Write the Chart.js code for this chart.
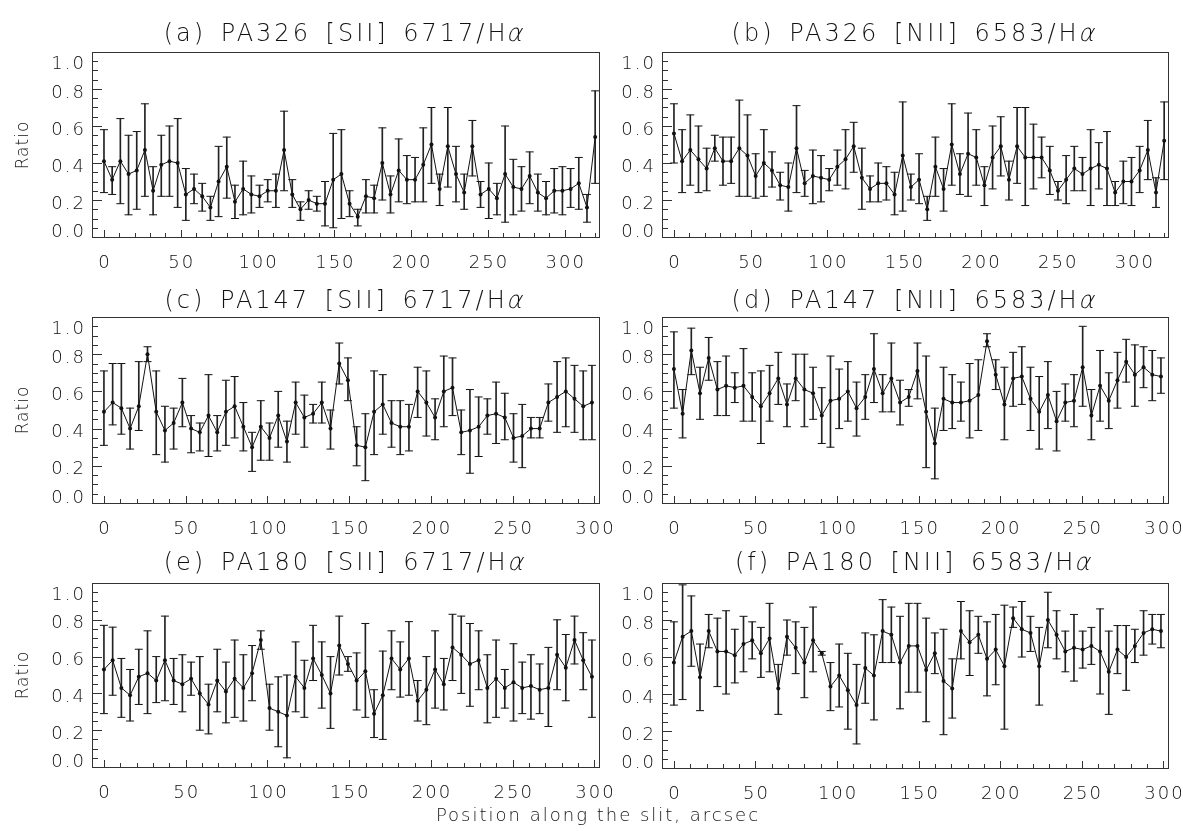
<!DOCTYPE html>
<html>
<head>
<meta charset="utf-8">
<title>Line ratios along the slit</title>
<script src="https://cdn.jsdelivr.net/npm/chart.js@4.4.1/dist/chart.umd.min.js"></script>
<style>
  body { margin: 0; background: #fff; }
  #page { position: relative; width: 1183px; height: 831px; overflow: hidden;
          font-family: "DejaVu Sans", sans-serif; font-weight: 200; color: #111; }
  #page canvas { position: absolute; }
  .ptitle { position: absolute; text-align: center; font-size: 24px; line-height: 24px;
            letter-spacing: 3px; word-spacing: 4px; white-space: nowrap; will-change: transform; }
  .alpha { display: inline-block; transform: skewX(-14deg); }
  .ylab { position: absolute; width: 100px; height: 20px; line-height: 20px; text-align: center;
          font-size: 17px; letter-spacing: 1px; transform: rotate(-90deg); }
  #xlab { position: absolute; left: 0; width: 1196px; top: 806px; text-align: center;
          font-size: 18px; line-height: 18px; letter-spacing: 2px; white-space: nowrap; will-change: transform; }
</style>
</head>
<body>
<div id="page">
  <div id="xlab">Position along the slit, arcsec</div>
</div>
<script>
// ---- data (ratio, lower and upper error bar ends) ----
const binStep = 5.33;   // arcsec between extracted bins along the slit
const xTickValues = [0, 50, 100, 150, 200, 250, 300];
const yTickValues = [0, 0.2, 0.4, 0.6, 0.8, 1.0];

// (a) PA326 [SII] 6717/Ha
const pa326SiiVal = [0.41,0.31,0.41,0.34,0.36,0.47,0.25,0.39,0.41,0.40, 0.23,0.26,0.22,0.16,0.30,0.38,0.19,0.26,0.23,0.22,
  0.25,0.25,0.47,0.23,0.15,0.20,0.18,0.18,0.31,0.34, 0.18,0.11,0.22,0.21,0.40,0.23,0.36,0.31,0.31,0.39,
  0.50,0.26,0.49,0.34,0.24,0.49,0.23,0.26,0.21,0.34, 0.27,0.26,0.33,0.24,0.21,0.25,0.25,0.26,0.29,0.16, 0.54];
const pa326SiiLo = [0.24,0.23,0.18,0.12,0.15,0.22,0.12,0.22,0.22,0.16, 0.09,0.18,0.14,0.09,0.11,0.21,0.10,0.12,0.13,0.16,
  0.19,0.16,0.25,0.16,0.09,0.15,0.14,0.06,0.05,0.10, 0.11,0.06,0.13,0.13,0.20,0.13,0.19,0.18,0.19,0.19,
  0.29,0.17,0.27,0.19,0.15,0.33,0.16,0.10,0.12,0.08, 0.12,0.14,0.18,0.14,0.12,0.13,0.12,0.16,0.15,0.08, 0.29];
const pa326SiiHi = [0.58,0.38,0.64,0.55,0.57,0.72,0.38,0.55,0.60,0.64, 0.37,0.34,0.29,0.22,0.49,0.54,0.28,0.41,0.33,0.28,
  0.31,0.34,0.68,0.31,0.19,0.25,0.22,0.30,0.56,0.58, 0.25,0.15,0.31,0.28,0.59,0.33,0.53,0.44,0.43,0.59,
  0.70,0.34,0.70,0.49,0.34,0.63,0.30,0.40,0.29,0.60, 0.42,0.38,0.46,0.34,0.30,0.37,0.38,0.37,0.43,0.23, 0.79];

// (b) PA326 [NII] 6583/Ha
const pa326NiiVal = [0.56,0.41,0.47,0.42,0.37,0.48,0.41,0.41,0.48,0.44, 0.33,0.40,0.36,0.28,0.27,0.48,0.29,0.33,0.32,0.31,
  0.38,0.42,0.49,0.32,0.26,0.29,0.29,0.23,0.44,0.27, 0.31,0.15,0.38,0.26,0.50,0.34,0.45,0.43,0.28,0.43,
  0.49,0.31,0.49,0.43,0.43,0.43,0.36,0.25,0.31,0.37, 0.34,0.37,0.39,0.37,0.24,0.30,0.30,0.36,0.47,0.24, 0.52];
const pa326NiiLo = [0.40,0.24,0.28,0.24,0.25,0.41,0.28,0.29,0.22,0.22, 0.21,0.22,0.27,0.20,0.14,0.24,0.22,0.18,0.19,0.25,
  0.28,0.26,0.35,0.15,0.19,0.19,0.20,0.12,0.14,0.20, 0.18,0.09,0.22,0.14,0.28,0.23,0.22,0.28,0.17,0.26,
  0.33,0.20,0.29,0.17,0.26,0.32,0.23,0.20,0.18,0.25, 0.25,0.17,0.26,0.17,0.17,0.18,0.17,0.24,0.31,0.16, 0.31];
const pa326NiiHi = [0.72,0.58,0.66,0.60,0.48,0.55,0.54,0.54,0.74,0.66, 0.45,0.58,0.46,0.35,0.40,0.71,0.36,0.47,0.44,0.37,
  0.47,0.58,0.62,0.48,0.33,0.40,0.38,0.35,0.73,0.34, 0.45,0.22,0.54,0.37,0.72,0.45,0.67,0.58,0.38,0.60,
  0.65,0.41,0.70,0.70,0.61,0.54,0.49,0.30,0.44,0.49, 0.43,0.58,0.51,0.57,0.30,0.41,0.43,0.49,0.63,0.32, 0.73];

// (c) PA147 [SII] 6717/Ha
const pa147SiiVal = [0.49,0.54,0.51,0.40,0.52,0.80,0.49,0.39,0.43,0.54, 0.40,0.38,0.47,0.38,0.49,0.52,0.41,0.30,0.41,0.35,
  0.47,0.33,0.54,0.46,0.48,0.54,0.40,0.75,0.66,0.31, 0.30,0.49,0.53,0.43,0.41,0.41,0.60,0.54,0.46,0.60,
  0.62,0.38,0.39,0.41,0.47,0.48,0.46,0.35,0.36,0.40, 0.40,0.54,0.57,0.60,0.56,0.52,0.54];
const pa147SiiLo = [0.31,0.42,0.37,0.29,0.39,0.76,0.26,0.22,0.29,0.41, 0.27,0.28,0.25,0.28,0.31,0.35,0.28,0.17,0.23,0.23,
  0.30,0.22,0.37,0.30,0.43,0.43,0.29,0.64,0.55,0.20, 0.12,0.26,0.37,0.30,0.26,0.28,0.46,0.36,0.34,0.41,
  0.47,0.26,0.16,0.25,0.37,0.32,0.34,0.22,0.19,0.35, 0.35,0.44,0.38,0.41,0.38,0.34,0.34];
const pa147SiiHi = [0.71,0.75,0.75,0.51,0.76,0.84,0.71,0.52,0.51,0.67, 0.47,0.43,0.69,0.47,0.66,0.68,0.54,0.38,0.55,0.43,
  0.60,0.44,0.65,0.58,0.53,0.65,0.50,0.86,0.78,0.41, 0.48,0.71,0.69,0.55,0.55,0.53,0.73,0.71,0.56,0.79,
  0.78,0.50,0.61,0.57,0.56,0.65,0.59,0.48,0.53,0.46, 0.46,0.64,0.76,0.78,0.74,0.71,0.74];

// (d) PA147 [NII] 6583/Ha
const pa147NiiVal = [0.72,0.48,0.82,0.59,0.78,0.61,0.63,0.62,0.63,0.57, 0.52,0.59,0.67,0.53,0.67,0.61,0.59,0.47,0.55,0.56,
  0.60,0.51,0.57,0.72,0.59,0.67,0.54,0.57,0.71,0.49, 0.32,0.56,0.54,0.54,0.55,0.58,0.87,0.69,0.53,0.67,
  0.68,0.56,0.49,0.58,0.44,0.54,0.55,0.73,0.47,0.63, 0.55,0.66,0.76,0.69,0.73,0.69,0.68];
const pa147NiiLo = [0.51,0.35,0.69,0.45,0.66,0.47,0.47,0.54,0.44,0.44, 0.32,0.44,0.53,0.41,0.55,0.41,0.45,0.32,0.30,0.40,
  0.44,0.36,0.45,0.54,0.49,0.49,0.42,0.52,0.56,0.19, 0.13,0.39,0.40,0.44,0.35,0.39,0.84,0.61,0.34,0.52,
  0.53,0.39,0.29,0.40,0.28,0.44,0.41,0.52,0.34,0.44, 0.40,0.51,0.65,0.52,0.62,0.55,0.59];
const pa147NiiHi = [0.92,0.61,0.94,0.73,0.89,0.76,0.79,0.70,0.83,0.70, 0.71,0.74,0.81,0.64,0.80,0.80,0.73,0.62,0.79,0.72,
  0.76,0.65,0.69,0.91,0.69,0.86,0.66,0.61,0.86,0.79, 0.51,0.73,0.69,0.65,0.75,0.77,0.91,0.77,0.73,0.81,
  0.84,0.73,0.68,0.76,0.60,0.64,0.69,0.95,0.61,0.82, 0.70,0.81,0.88,0.85,0.84,0.82,0.78];

// (e) PA180 [SII] 6717/Ha
const pa180SiiVal = [0.53,0.58,0.43,0.39,0.49,0.51,0.47,0.58,0.47,0.45, 0.48,0.40,0.34,0.47,0.41,0.48,0.43,0.51,0.69,0.32,
  0.30,0.28,0.49,0.43,0.59,0.50,0.40,0.66,0.56,0.47, 0.52,0.29,0.39,0.59,0.53,0.59,0.36,0.42,0.53,0.45,
  0.65,0.61,0.56,0.58,0.43,0.48,0.43,0.46,0.43,0.44, 0.42,0.43,0.61,0.54,0.69,0.58,0.49];
const pa180SiiLo = [0.29,0.39,0.27,0.25,0.34,0.29,0.35,0.36,0.34,0.30, 0.39,0.20,0.18,0.30,0.24,0.27,0.25,0.36,0.64,0.20,
  0.11,0.05,0.30,0.27,0.47,0.32,0.21,0.50,0.52,0.31, 0.27,0.16,0.15,0.42,0.38,0.39,0.25,0.23,0.32,0.31,
  0.47,0.40,0.33,0.42,0.24,0.27,0.32,0.25,0.29,0.26, 0.29,0.22,0.42,0.36,0.56,0.42,0.27];
const pa180SiiHi = [0.77,0.76,0.59,0.53,0.64,0.74,0.60,0.82,0.59,0.61, 0.57,0.60,0.45,0.64,0.57,0.69,0.61,0.66,0.74,0.45,
  0.49,0.50,0.68,0.58,0.77,0.68,0.60,0.82,0.60,0.62, 0.78,0.42,0.63,0.74,0.68,0.79,0.47,0.60,0.74,0.59,
  0.83,0.82,0.78,0.74,0.61,0.69,0.53,0.67,0.57,0.61, 0.56,0.65,0.80,0.72,0.82,0.73,0.69];

// (f) PA180 [NII] 6583/Ha
const pa180NiiVal = [0.57,0.71,0.74,0.49,0.74,0.63,0.63,0.61,0.67,0.69, 0.62,0.70,0.43,0.71,0.65,0.57,0.69,0.62,0.44,0.50,
  0.42,0.34,0.54,0.50,0.74,0.72,0.57,0.66,0.66,0.53, 0.62,0.47,0.43,0.74,0.68,0.72,0.59,0.64,0.55,0.81,
  0.75,0.73,0.55,0.80,0.72,0.63,0.65,0.64,0.66,0.63, 0.52,0.64,0.60,0.66,0.73,0.75,0.74];
const pa180NiiLo = [0.34,0.37,0.55,0.31,0.65,0.44,0.40,0.46,0.52,0.59, 0.49,0.52,0.29,0.61,0.51,0.38,0.52,0.61,0.31,0.33,
  0.21,0.13,0.35,0.26,0.57,0.57,0.32,0.41,0.41,0.25, 0.51,0.18,0.27,0.59,0.50,0.62,0.39,0.45,0.21,0.76,
  0.60,0.63,0.34,0.65,0.59,0.52,0.47,0.54,0.56,0.40, 0.29,0.51,0.42,0.57,0.61,0.67,0.65];
const pa180NiiHi = [0.79,0.99,0.93,0.67,0.83,0.81,0.85,0.75,0.82,0.79, 0.76,0.89,0.56,0.80,0.79,0.76,0.87,0.63,0.57,0.67,
  0.62,0.56,0.73,0.72,0.91,0.87,0.82,0.89,0.89,0.81, 0.73,0.75,0.59,0.90,0.85,0.82,0.79,0.83,0.88,0.87,
  0.90,0.82,0.76,0.95,0.85,0.74,0.83,0.74,0.76,0.86, 0.74,0.77,0.77,0.75,0.85,0.83,0.83];

const ink = "#111";
const labelFont = '200 18px "DejaVu Sans", sans-serif';

// IDL-style frame: box, inward ticks, labels
const idlAxes = {
    id: "idlAxes",
    afterDatasetsDraw(chart) {
        const { ctx, chartArea, scales } = chart;
        const { left, right, top, bottom } = chartArea;
        const xs = scales.x, ys = scales.y;
        ctx.save();
        ctx.strokeStyle = "#333";
        ctx.lineWidth = 1;
        ctx.strokeRect(left + 0.5, top + 0.5, right - left, bottom - top);

        ctx.beginPath();
        for (let k = 0; k <= 20; k++) {
            const py = Math.round(ys.getPixelForValue(k * 0.05)) + 0.5;
            const len = k % 4 === 0 ? 10 : 6;
            ctx.moveTo(left, py);
            ctx.lineTo(left + len, py);
        }
        for (let v = Math.ceil(xs.min / 10) * 10; v <= xs.max; v += 10) {
            const px = Math.round(xs.getPixelForValue(v)) + 0.5;
            const len = v % 50 === 0 ? 7 : 4;
            ctx.moveTo(px, bottom);
            ctx.lineTo(px, bottom - len);
        }
        ctx.stroke();

        ctx.fillStyle = ink;
        ctx.font = labelFont;
        ctx.letterSpacing = "2px";
        ctx.textBaseline = "alphabetic";
        ctx.textAlign = "right";
        yTickValues.forEach((v, k) => {
            let base = ys.getPixelForValue(v) + 8.5;
            if (k === 0) base = bottom - 0.5;
            if (k === yTickValues.length - 1) base = top + 16.5;
            ctx.fillText(v.toFixed(1), left - 6, base);
        });
        ctx.textAlign = "center";
        xTickValues.forEach(v => {
            ctx.fillText(String(v), xs.getPixelForValue(v) + 1, bottom + 31);
        });
        ctx.restore();
    }
};

function buildDatasets(val, lo, hi) {
    const at = i => i * binStep;
    const capStyle = {
        type: "scatter", showLine: false, pointStyle: "line", pointRadius: 4,
        pointBorderColor: ink, borderColor: ink, pointBorderWidth: 1
    };
    return [
        {
            type: "line",
            data: val.map((v, i) => ({ x: at(i), y: v })),
            borderColor: ink, borderWidth: 1, tension: 0,
            pointRadius: 2, pointBackgroundColor: ink, pointBorderWidth: 0
        },
        {
            type: "bar",
            data: val.map((v, i) => ({ x: at(i), y: [lo[i], hi[i]] })),
            backgroundColor: "#222", borderWidth: 0, barThickness: 1
        },
        Object.assign({ data: lo.map((v, i) => ({ x: at(i), y: v })) }, capStyle),
        Object.assign({ data: hi.map((v, i) => ({ x: at(i), y: v })) }, capStyle)
    ];
}

function makePanel(title, box, xRange, val, lo, hi, withRatio) {
    const page = document.getElementById("page");
    const padL = 70, padR = 20, padT = 10, padB = 40;
    const canvas = document.createElement("canvas");
    canvas.width = box.r - box.l + padL + padR;
    canvas.height = box.b - box.t + padT + padB;
    canvas.style.left = (box.l - padL) + "px";
    canvas.style.top = (box.t - padT) + "px";
    page.appendChild(canvas);

    const t = document.createElement("div");
    t.className = "ptitle";
    t.style.left = box.l + "px";
    t.style.width = (box.r - box.l) + "px";
    t.style.top = box.titleTop + "px";
    t.innerHTML = title + '/H<span class="alpha">α</span>';
    page.appendChild(t);

    if (withRatio) {
        const r = document.createElement("div");
        r.className = "ylab";
        r.textContent = "Ratio";
        r.style.left = (22 - 50) + "px";
        r.style.top = ((box.t + box.b) / 2 - 10) + "px";
        page.appendChild(r);
    }

    return new Chart(canvas.getContext("2d"), {
        type: "line",
        data: { datasets: buildDatasets(val, lo, hi) },
        options: {
            responsive: false,
            animation: false,
            events: [],
            devicePixelRatio: 1,
            layout: { padding: { left: padL, right: padR, top: padT, bottom: padB } },
            plugins: { legend: { display: false }, tooltip: { enabled: false } },
            scales: {
                x: { type: "linear", min: xRange[0], max: xRange[1], offset: false, display: false },
                y: { type: "linear", min: 0, max: 1, display: false }
            }
        },
        plugins: [idlAxes]
    });
}

const topRange = [-7.8, 322.3];
const lowRange = [-7.3, 302.8];

makePanel("(a) PA326 [SII] 6717", { l: 92, r: 599, t: 52, b: 237, titleTop: 21 }, topRange, pa326SiiVal, pa326SiiLo, pa326SiiHi, true);
makePanel("(b) PA326 [NII] 6583", { l: 662, r: 1168, t: 52, b: 237, titleTop: 21 }, topRange, pa326NiiVal, pa326NiiLo, pa326NiiHi, false);
makePanel("(c) PA147 [SII] 6717", { l: 92, r: 599, t: 317, b: 503, titleTop: 288 }, lowRange, pa147SiiVal, pa147SiiLo, pa147SiiHi, true);
makePanel("(d) PA147 [NII] 6583", { l: 662, r: 1168, t: 317, b: 503, titleTop: 288 }, lowRange, pa147NiiVal, pa147NiiLo, pa147NiiHi, false);
makePanel("(e) PA180 [SII] 6717", { l: 92, r: 599, t: 583, b: 767, titleTop: 550 }, lowRange, pa180SiiVal, pa180SiiLo, pa180SiiHi, true);
makePanel("(f) PA180 [NII] 6583", { l: 662, r: 1168, t: 583, b: 768, titleTop: 550 }, lowRange, pa180NiiVal, pa180NiiLo, pa180NiiHi, false);
</script>
</body>
</html>
